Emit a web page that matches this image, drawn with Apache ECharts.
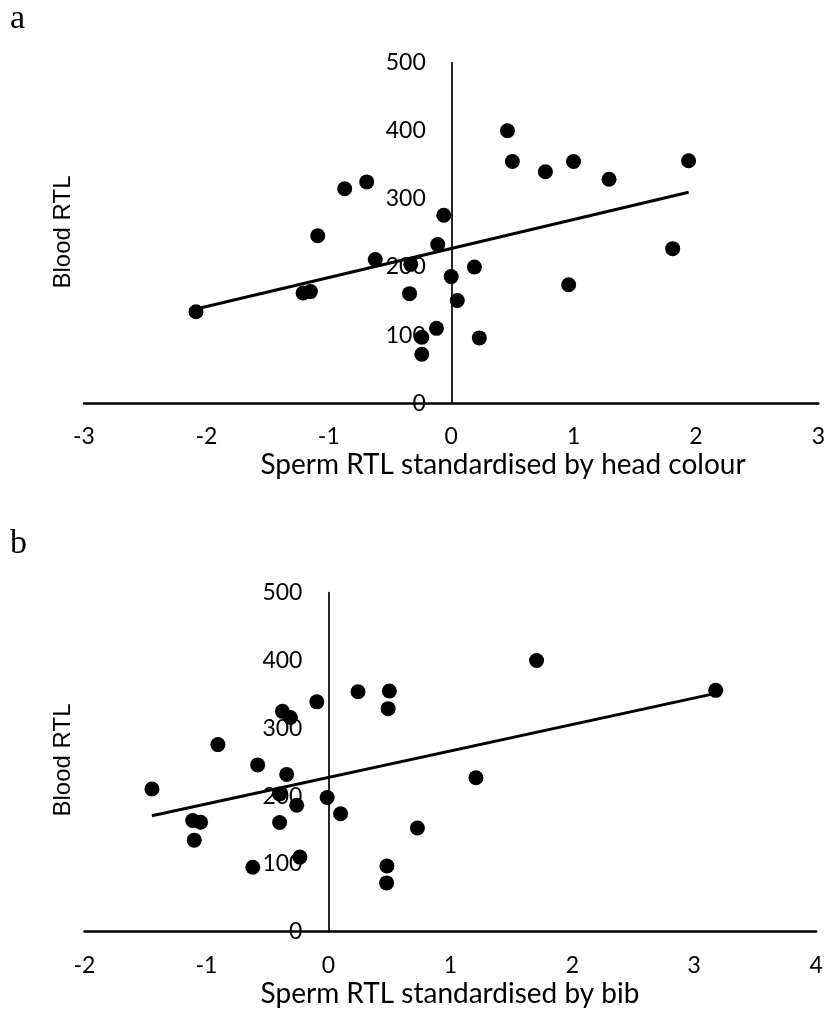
<!DOCTYPE html>
<html>
<head>
<meta charset="utf-8">
<script src="https://cdn.jsdelivr.net/npm/echarts@6/dist/echarts.min.js"></script>
<style>
html,body{margin:0;padding:0;background:#fff;}
#chart{width:828px;height:1023px;}
</style>
</head>
<body>
<div id="chart"></div>
<script>
// Panel a: Sperm RTL standardised by head colour vs Blood RTL
const pointsA = [
  [-2.085,134.5],[-1.21,162],[-1.15,164],[-1.09,246],[-0.87,315],[-0.69,325],
  [-0.62,211],[-0.33,204],[-0.34,161],[-0.06,276],[-0.11,233],[0.0,186],
  [0.05,151],[-0.12,110],[-0.24,97],[-0.24,72],[0.19,200],[0.23,96],
  [0.46,400],[0.50,355],[0.77,340],[1.0,355],[1.29,329],[0.96,174],
  [1.81,227],[1.94,356]
];
const trendA = [[-2.085,138.5],[1.94,309.7]];
const xTicksA = {min:-3, max:3, interval:1};

// Panel b: Sperm RTL standardised by bib vs Blood RTL
const pointsB = [
  [-1.447,210.5],[-1.113,164],[-1.048,161.5],[-1.10,135],[-0.906,276],[-0.58,246],
  [-0.62,95],[-0.377,325],[-0.312,316],[-0.342,232],[-0.40,203],[-0.26,186.5],
  [-0.40,161],[-0.234,110],[-0.095,339],[-0.01,198],[0.10,174],[0.243,354],
  [0.50,355],[0.49,329],[0.48,97],[0.477,72],[0.73,153],[1.21,227],
  [1.707,400],[3.176,356]
];
const trendB = [[-1.447,171],[3.176,351.5]];
const xTicksB = {min:-2, max:4, interval:1};

const yTicks = {min:0, max:500, interval:100};

const panelLabels = ['a','b'];
const xTitles = ['Sperm RTL standardised by head colour','Sperm RTL standardised by bib'];
const yTitle = 'Blood RTL';

const grids = [
  {left:84, top:62.7, width:735.5, height:340.6},
  {left:84.5, top:592.7, width:731.7, height:339}
];

const tickFont = {fontFamily:"Lato, sans-serif", fontSize:23, color:'#000'};

function xAxisCfg(idx, t){
  return {
    type:'value', gridIndex:idx, min:t.min, max:t.max, interval:t.interval,
    axisLine:{show:true, onZero:false, lineStyle:{color:'#000', width:2.5}},
    axisTick:{show:false}, splitLine:{show:false},
    axisLabel:Object.assign({margin:22}, tickFont)
  };
}
function yAxisCfg(idx, t){
  // place the y axis at x = 0 of the x scale
  const off = -grids[idx].width * (0 - t.min) / (t.max - t.min);
  return {
    type:'value', gridIndex:idx, min:yTicks.min, max:yTicks.max, interval:yTicks.interval,
    position:'left', offset:off,
    axisLine:{show:true, onZero:false, lineStyle:{color:'#000', width:1.7}},
    axisTick:{show:false}, splitLine:{show:false},
    axisLabel:Object.assign({margin:26}, tickFont)
  };
}

const chart = echarts.init(document.getElementById('chart'), null, {renderer:'canvas'});
chart.setOption({
  backgroundColor:'#fff',
  animation:false,
  grid:grids,
  xAxis:[xAxisCfg(0,xTicksA), xAxisCfg(1,xTicksB)],
  yAxis:[yAxisCfg(0,xTicksA), yAxisCfg(1,xTicksB)],
  graphic:[
    {type:'text', left:10, top:2, style:{text:panelLabels[0], font:"34px 'Liberation Serif', serif", fill:'#000'}},
    {type:'text', left:10, top:527, style:{text:panelLabels[1], font:"34px 'Liberation Serif', serif", fill:'#000'}},
    {type:'text', x:503, y:465, style:{text:xTitles[0], font:"28px Lato, sans-serif", fill:'#000', align:'center', verticalAlign:'middle'}},
    {type:'text', x:450, y:994, style:{text:xTitles[1], font:"28px Lato, sans-serif", fill:'#000', align:'center', verticalAlign:'middle'}},
    {type:'text', x:63, y:232, rotation:Math.PI/2, style:{text:yTitle, font:"24px 'Liberation Sans', sans-serif", fill:'#000', align:'center', verticalAlign:'middle'}},
    {type:'text', x:63, y:760, rotation:Math.PI/2, style:{text:yTitle, font:"24px 'Liberation Sans', sans-serif", fill:'#000', align:'center', verticalAlign:'middle'}}
  ],
  series:[
    {type:'scatter', xAxisIndex:0, yAxisIndex:0, data:pointsA, symbol:'circle', symbolSize:15, itemStyle:{color:'#000', opacity:1}, z:3},
    {type:'line', xAxisIndex:0, yAxisIndex:0, data:trendA, showSymbol:false, symbol:'none', lineStyle:{color:'#000', width:3}, z:4},
    {type:'scatter', xAxisIndex:1, yAxisIndex:1, data:pointsB, symbol:'circle', symbolSize:15, itemStyle:{color:'#000', opacity:1}, z:3},
    {type:'line', xAxisIndex:1, yAxisIndex:1, data:trendB, showSymbol:false, symbol:'none', lineStyle:{color:'#000', width:3}, z:4}
  ]
});
</script>
</body>
</html>
